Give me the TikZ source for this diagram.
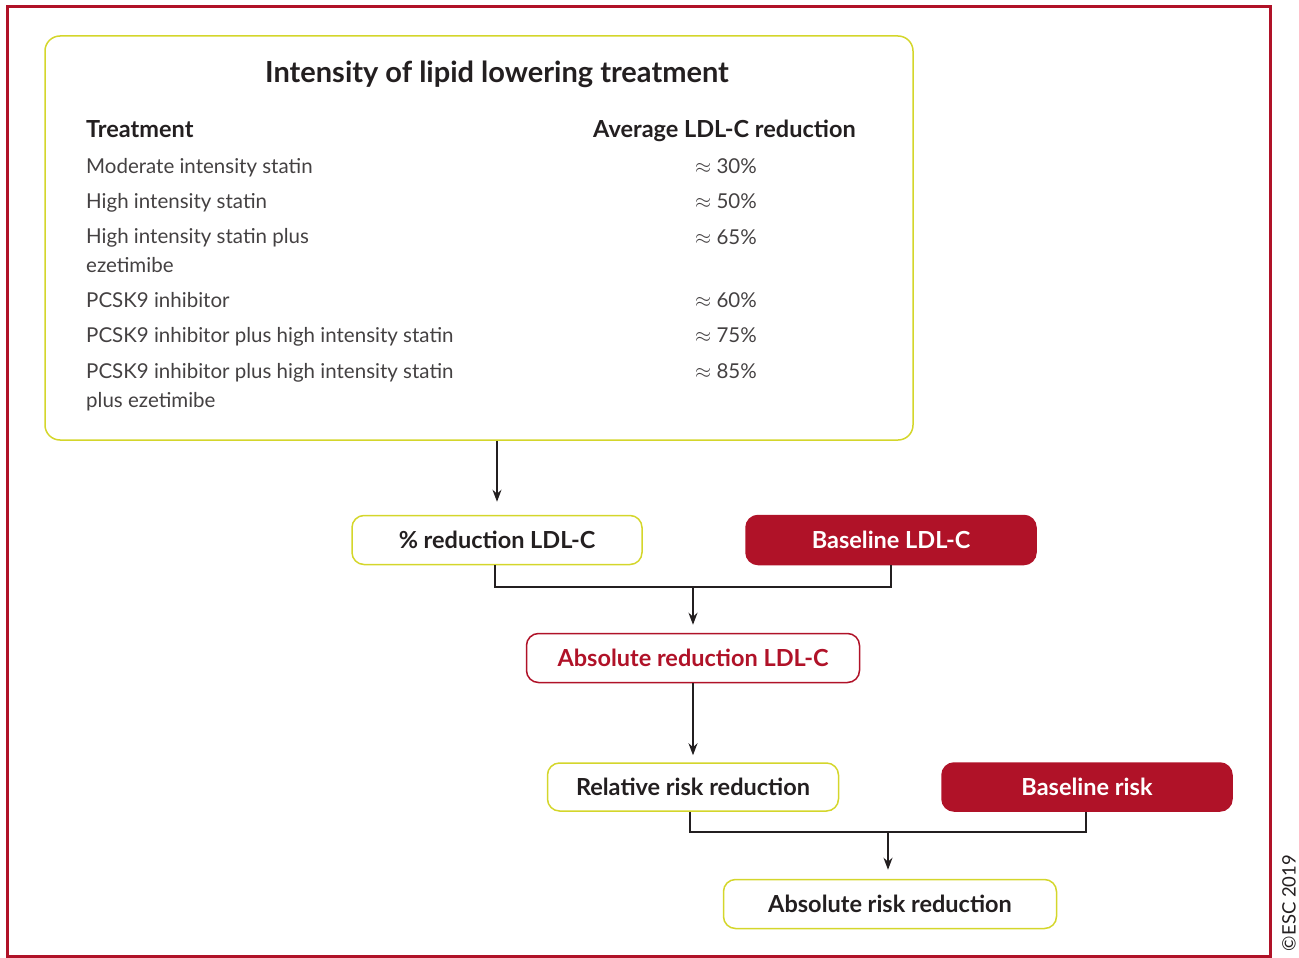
\documentclass[tikz,border=0pt]{standalone}
\usepackage{fontspec}
\setmainfont{Lato}
\usetikzlibrary{arrows.meta}

\definecolor{escred}{HTML}{B01228}
\definecolor{escyellow}{HTML}{D4D62B}
\definecolor{inkgray}{HTML}{231F20}

\begin{document}
\begin{tikzpicture}[x=1pt, y=-1pt, >={Stealth[length=12pt,width=9pt]}]

        % Define custom styles for boxes and table text
        \tikzset{
          ybox/.style={draw=escyellow, line width=1.5pt, rounded corners=12pt, text=inkgray,
                       font=\bfseries\fontsize{23.5}{27}\selectfont},
          rbox/.style={draw=escred, line width=1.5pt, rounded corners=12pt, text=escred,
                       font=\bfseries\fontsize{23.5}{27}\selectfont},
          fbox/.style={fill=escred, draw=escred, line width=1.5pt, rounded corners=12pt, text=white,
                       font=\bfseries\fontsize{23.5}{27}\selectfont},
          rowtext/.style={anchor=base west, inner sep=0pt, align=left, text=inkgray!85,
                          font=\fontsize{20.5}{29}\selectfont},
          headtext/.style={anchor=base west, inner sep=0pt, text=inkgray,
                           font=\bfseries\fontsize{23.5}{27}\selectfont},
          link/.style={inkgray, line width=1.2pt}
        }

        \useasboundingbox (0,0) rectangle (1299,958);

        % Outer frame
        \draw[escred, line width=3pt] (7,7) rectangle (1270,956);

        % Table with treatment intensities
        \node[draw=escyellow, line width=1.5pt, rounded corners=15pt,
              minimum width=868pt, minimum height=404pt] (tab) at (479,238) {};
        \node[anchor=base, inner sep=0pt, text=inkgray, font=\bfseries\fontsize{29}{32}\selectfont]
              (title) at (497,83) {Intensity of lipid lowering treatment};
        \node[headtext] (hleft) at (86,137) {Treatment};
        \node[headtext] (hright) at (593,137) {Average LDL-C reduction};

        % multi-line rows sit on the baseline of their last line
        \node[rowtext] (t1) at (86,173) {Moderate intensity statin};
        \node[rowtext] (t2) at (86,208) {High intensity statin};
        \node[rowtext] (t3) at (86,272) {High intensity statin plus\\ezetimibe};
        \node[rowtext] (t4) at (86,307) {PCSK9 inhibitor};
        \node[rowtext] (t5) at (86,342) {PCSK9 inhibitor plus high intensity statin};
        \node[rowtext] (t6) at (86,407) {PCSK9 inhibitor plus high intensity statin\\plus ezetimibe};

        \node[rowtext] (v1) at (695,173) {$\approx$ 30\%};
        \node[rowtext] (v2) at (695,208) {$\approx$ 50\%};
        \node[rowtext] (v3) at (695,244) {$\approx$ 65\%};
        \node[rowtext] (v4) at (695,307) {$\approx$ 60\%};
        \node[rowtext] (v5) at (695,342) {$\approx$ 75\%};
        \node[rowtext] (v6) at (695,378) {$\approx$ 85\%};

        % Flow boxes
        \node[ybox, minimum width=290pt, minimum height=49pt] (pct) at (497,540) {\% reduction LDL-C};
        \node[fbox, minimum width=290pt, minimum height=49pt] (baseldl) at (891,540) {Baseline LDL-C};
        \node[rbox, minimum width=333pt, minimum height=49pt] (absldl) at (693,658) {Absolute reduction LDL-C};
        \node[ybox, minimum width=291pt, minimum height=48pt] (rrr) at (693,787) {Relative risk reduction};
        \node[fbox, minimum width=290pt, minimum height=48pt] (baserisk) at (1087,787) {Baseline risk};
        \node[ybox, minimum width=333pt, minimum height=49pt] (arr) at (890,904) {Absolute risk reduction};

        % Connectors
        \coordinate (j1) at (693,587);
        \coordinate (j2) at (888,832);
        \draw[->, link] (tab.south -| pct) -- ([yshift=13pt]pct.north);
        \draw[link] ([xshift=-2pt]pct.south) |- (j1) -| (baseldl.south);
        \draw[->, link] (j1) -- ([yshift=8pt]absldl.north);
        \draw[->, link] (absldl) -- ([yshift=7pt]rrr.north);
        \draw[link] ([xshift=-3pt]rrr.south) |- (j2) -| ([xshift=-1pt]baserisk.south);
        \draw[->, link] (j2) -- ([yshift=9pt]arr.north -| j2);

        % Copyright note
        \node[rotate=90, inner sep=0pt, text=inkgray, font=\fontsize{18.5}{22}\selectfont] (esc) at (1289,903) {©ESC 2019};

\end{tikzpicture}
\end{document}
